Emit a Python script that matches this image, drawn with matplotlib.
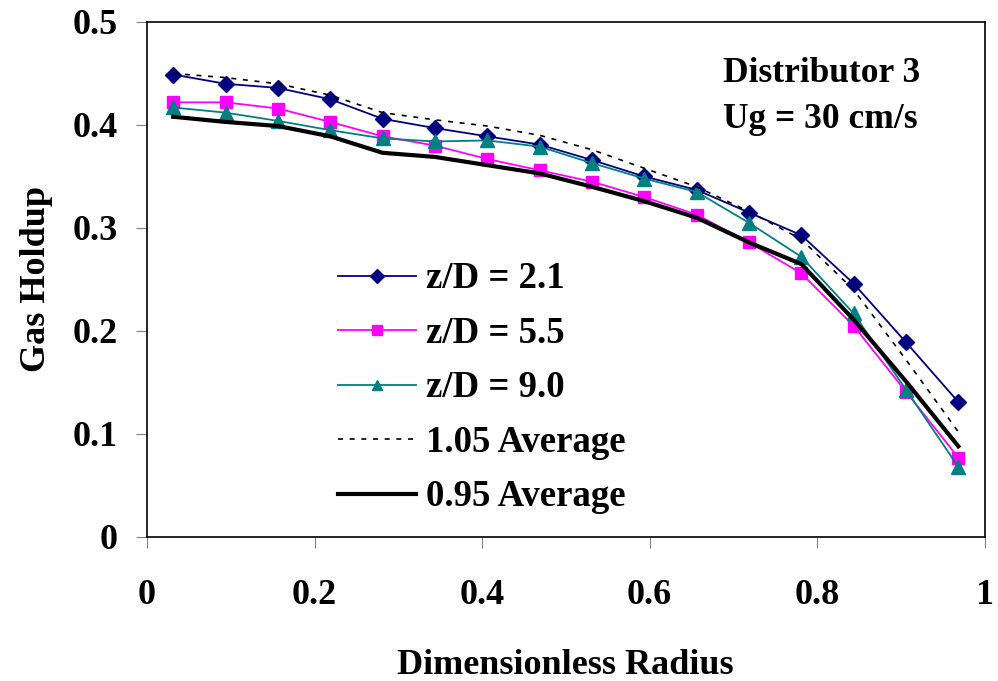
import numpy as np
import matplotlib.pyplot as plt

# Radial positions (dimensionless)
radius = [0.03125, 0.09375, 0.15625, 0.21875, 0.28125, 0.34375, 0.40625, 0.46875,
          0.53125, 0.59375, 0.65625, 0.71875, 0.78125, 0.84375, 0.90625, 0.96875]

# Gas holdup at three axial positions
holdup_21 = [0.449, 0.440, 0.436, 0.425, 0.406, 0.397, 0.389, 0.381,
             0.366, 0.350, 0.337, 0.315, 0.293, 0.246, 0.189, 0.131]
holdup_55 = [0.422, 0.422, 0.416, 0.403, 0.389, 0.380, 0.367, 0.356,
             0.345, 0.330, 0.313, 0.286, 0.256, 0.205, 0.141, 0.077]
holdup_90 = [0.417, 0.412, 0.404, 0.395, 0.387, 0.384, 0.385, 0.379,
             0.363, 0.348, 0.335, 0.305, 0.272, 0.217, 0.143, 0.068]

# Bounds around the average profile
upper_105 = [0.450, 0.446, 0.440, 0.429, 0.412, 0.405, 0.399, 0.390,
             0.376, 0.358, 0.340, 0.316, 0.289, 0.240, 0.172, 0.102]
lower_095 = [0.408, 0.403, 0.399, 0.389, 0.373, 0.369, 0.361, 0.353,
             0.340, 0.326, 0.310, 0.286, 0.265, 0.211, 0.151, 0.088]

x_ticks = [0, 0.2, 0.4, 0.6, 0.8, 1.0]
x_labels = ["0", "0.2", "0.4", "0.6", "0.8", "1"]
y_ticks = [0, 0.1, 0.2, 0.3, 0.4, 0.5]
y_labels = ["0", "0.1", "0.2", "0.3", "0.4", "0.5"]

plt.rcParams['font.family'] = ['Liberation Serif', 'DejaVu Serif']
plt.rcParams['font.weight'] = 'bold'

fig = plt.figure(figsize=(9.98, 6.81), dpi=100)
ax = fig.add_axes([0.1473, 0.2115, 0.8392, 0.7562])

ax.plot(radius, holdup_21, color='#000080', lw=1.3, marker='D', ms=8.5,
        label='z/D = 2.1')
ax.plot(radius, holdup_55, color='#FF00FF', lw=1.3, marker='s', ms=8.5,
        label='z/D = 5.5')
ax.plot(radius, holdup_90, color='#008080', lw=1.3, marker='^', ms=9.5,
        label='z/D = 9.0')
ax.plot(radius, upper_105, color='black', lw=1.2, ls=(0, (3, 4)),
        label='1.05 Average')
ax.plot(radius, lower_095, color='black', lw=3, label='0.95 Average')

ax.set_xlim(0, 1)
ax.set_ylim(0, 0.5)
ax.set_xticks(x_ticks)
ax.set_xticklabels(x_labels)
ax.set_yticks(y_ticks)
ax.set_yticklabels(y_labels)
ax.tick_params(axis='x', direction='out', length=8, color='gray',
               labelsize=26, pad=22)
ax.tick_params(axis='y', direction='out', length=8, color='gray',
               labelsize=26, pad=13)
for s in ax.spines.values():
    s.set_linewidth(1.2)

ax.set_xlabel('Dimensionless Radius', fontsize=26, fontweight='bold', labelpad=27)
ax.set_ylabel('Gas Holdup', fontsize=26, fontweight='bold', labelpad=14)

ax.text(0.688, 0.883, 'Distributor 3', transform=ax.transAxes,
        fontsize=25.5, fontweight='bold', va='baseline')
ax.text(0.688, 0.794, 'Ug = 30 cm/s', transform=ax.transAxes,
        fontsize=25.5, fontweight='bold', va='baseline')

leg = ax.legend(loc='upper left', bbox_to_anchor=(0.228, 0.535), frameon=False,
                fontsize=26.5, handlelength=2.13, handletextpad=0.27,
                labelspacing=0.53, borderpad=0, borderaxespad=0, markerscale=0.8)
for t in leg.get_texts():
    t.set_fontweight('bold')

fig.savefig('out.png', dpi=100)
